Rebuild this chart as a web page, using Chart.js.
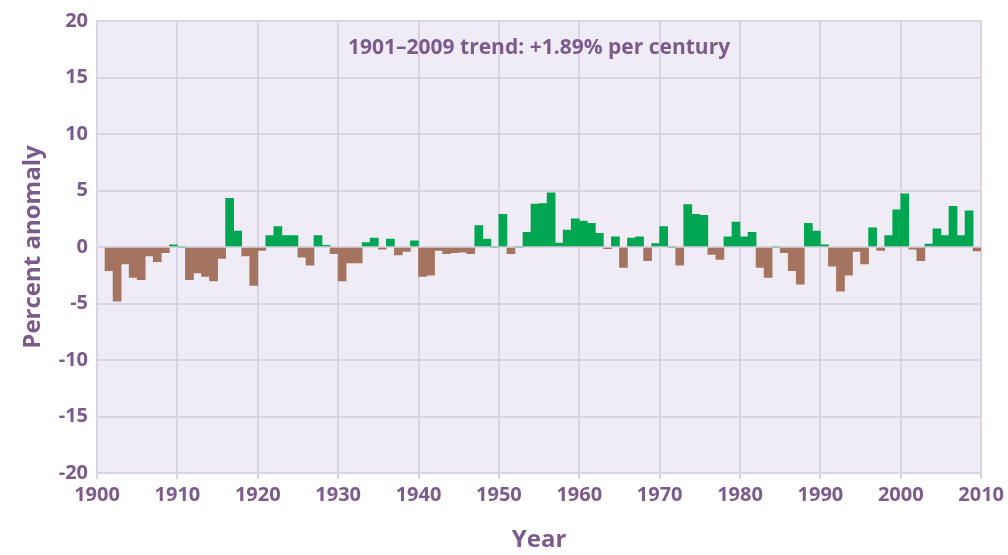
<!DOCTYPE html>
<html>
<head>
<meta charset="utf-8">
<title>Precipitation anomaly</title>
<script src="https://cdn.jsdelivr.net/npm/chart.js@4"></script>
<style>
  body { margin: 0; background: #fff; }
  #wrap { width: 1008px; height: 555px; }
</style>
</head>
<body>
<div id="wrap"><canvas id="anomalyChart" width="1008" height="555"></canvas></div>
<script>
// yearly precipitation anomaly (%), 1901-2009
const firstYear = 1901;
const anomaly = [
  -2.1, -4.8, -1.5, -2.7, -2.9, -0.8, -1.3, -0.5, 0.2,          // 1901-1909
  0.0, -2.9, -2.3, -2.6, -3.0, -1.0, 4.3, 1.4, -0.8, -3.4,     // 1910s
  -0.3, 1.0, 1.8, 1.0, 1.0, -0.9, -1.6, 1.0, 0.15, -0.6,       // 1920s
  -3.0, -1.4, -1.4, 0.4, 0.8, -0.2, 0.7, -0.7, -0.4, 0.55,     // 1930s
  -2.6, -2.5, -0.3, -0.6, -0.5, -0.45, -0.6, 1.9, 0.7, 0.0,    // 1940s
  2.9, -0.6, 0.0, 1.3, 3.8, 3.85, 4.8, 0.35, 1.5, 2.5,         // 1950s
  2.3, 2.1, 1.2, -0.15, 0.9, -1.8, 0.8, 0.9, -1.2, 0.3,        // 1960s
  1.8, 0.0, -1.6, 3.75, 2.9, 2.8, -0.65, -1.1, 0.9, 2.2,       // 1970s
  0.9, 1.3, -1.8, -2.7, 0.0, -0.5, -2.1, -3.3, 2.1, 1.4,       // 1980s
  0.2, -1.7, -3.9, -2.5, -0.4, -1.5, 1.7, -0.3, 1.0, 3.3,      // 1990s
  4.7, -0.2, -1.2, 0.25, 1.6, 1.0, 3.6, 1.0, 3.2, -0.35        // 2000s
];
const years = anomaly.map((_, i) => firstYear + i);

const xTicks = [1900, 1910, 1920, 1930, 1940, 1950, 1960, 1970, 1980, 1990, 2000, 2010];
const yTicks = [-20, -15, -10, -5, 0, 5, 10, 15, 20];
const trendNote = '1901–2009 trend: +1.89% per century';

const purple = '#7b5b8c';
const gridColor = '#d9d3e3';
const wetColor = '#00a651';
const dryColor = '#a57461';
const fontFamily = '"Open Sans", "DejaVu Sans", sans-serif';

// light lavender fill behind the plot
const plotBackground = {
  id: 'plotBackground',
  beforeDraw(chart) {
    const { ctx, chartArea: a } = chart;
    ctx.save();
    ctx.fillStyle = '#efecf5';
    ctx.fillRect(a.left, a.top, a.width, a.height);
    ctx.restore();
  }
};

// trend note at the top of the plot
const trendLabel = {
  id: 'trendLabel',
  afterDatasetsDraw(chart) {
    const { ctx, chartArea: a } = chart;
    ctx.save();
    ctx.font = 'bold 21px ' + fontFamily;
    ctx.fillStyle = purple;
    ctx.textAlign = 'center';
    ctx.textBaseline = 'middle';
    ctx.fillText(trendNote, (a.left + a.right) / 2, a.top + 27);
    ctx.restore();
  }
};

new Chart(document.getElementById('anomalyChart'), {
  type: 'bar',
  data: {
    datasets: [{
      label: 'Percent anomaly',
      // each bar covers its whole year
      data: years.map((y, i) => ({ x: y + 0.5, y: anomaly[i] })),
      backgroundColor: anomaly.map(v => v >= 0 ? wetColor : dryColor),
      borderWidth: 0,
      barPercentage: 1,
      categoryPercentage: 1
    }]
  },
  options: {
    responsive: false,
    animation: false,
    layout: { padding: { top: 18, right: 25, left: 0, bottom: 0 } },
    plugins: {
      legend: { display: false },
      tooltip: { enabled: false }
    },
    scales: {
      x: {
        type: 'linear',
        min: 1900,
        max: 2010,
        offset: false,
        afterBuildTicks: s => { s.ticks = xTicks.map(v => ({ value: v })); },
        afterFit: s => { s.height = 82; },
        grid: { offset: false, color: gridColor, lineWidth: 2, drawTicks: true, tickLength: 6, tickColor: gridColor },
        border: { color: gridColor, width: 2 },
        ticks: {
          color: purple,
          font: { family: fontFamily, size: 20, weight: 'bold' },
          padding: 4,
          maxRotation: 0,
          autoSkip: false,
          callback: v => String(v)
        },
        title: {
          display: true,
          text: 'Year',
          color: purple,
          font: { family: fontFamily, size: 24, weight: 'bold' },
          padding: { top: 0, bottom: 0 }
        }
      },
      y: {
        min: -20,
        max: 20,
        afterBuildTicks: s => { s.ticks = yTicks.map(v => ({ value: v })); },
        afterFit: s => { s.width = 97; },
        grid: { color: gridColor, lineWidth: 2, drawTicks: false },
        border: { color: gridColor, width: 2 },
        ticks: {
          color: purple,
          font: { family: fontFamily, size: 20, weight: 'bold' },
          padding: 9,
          callback: v => String(v)
        },
        title: {
          display: true,
          text: 'Percent anomaly',
          color: purple,
          font: { family: fontFamily, size: 24, weight: 'bold' },
          padding: { top: 19, bottom: 0 }
        }
      }
    }
  },
  plugins: [plotBackground, trendLabel]
});
</script>
</body>
</html>
